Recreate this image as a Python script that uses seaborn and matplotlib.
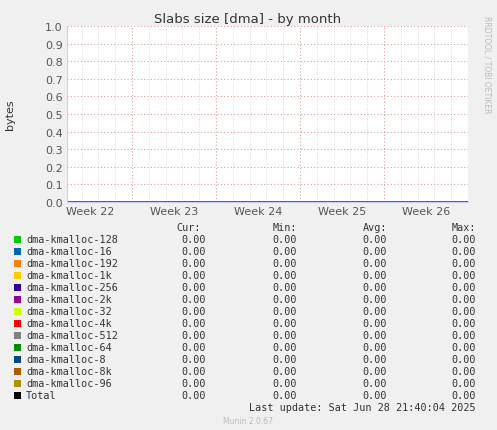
import matplotlib
matplotlib.use("Agg")
import matplotlib.pyplot as plt
import seaborn as sns
import numpy as np
import pandas as pd

series_names = ["dma-kmalloc-128", "dma-kmalloc-16", "dma-kmalloc-192", "dma-kmalloc-1k",
                "dma-kmalloc-256", "dma-kmalloc-2k", "dma-kmalloc-32", "dma-kmalloc-4k",
                "dma-kmalloc-512", "dma-kmalloc-64", "dma-kmalloc-8", "dma-kmalloc-8k",
                "dma-kmalloc-96", "Total"]
series_colors = ["#00CC00", "#0066B3", "#FF8000", "#FFCC00", "#330099", "#990099", "#CCFF00",
                 "#FF0000", "#808080", "#008F00", "#00487D", "#B35A00", "#B38F00", "#000000"]
cur_vals = [0.0] * 14
min_vals = [0.0] * 14
avg_vals = [0.0] * 14
max_vals = [0.0] * 14
week_labels = ["Week 22", "Week 23", "Week 24", "Week 25", "Week 26"]
week_pos = [0, 7, 14, 21, 28]
time_days = [-1.9, 31.5]
values = [0.0, 0.0]

sns.set_style("white")
plt.rcParams['font.family'] = ['DejaVu Sans']
fig = plt.figure(figsize=(4.97, 4.31), dpi=100, facecolor="#F0F0F0")
ax = fig.add_axes([67/497, 1-203/431, (468-67)/497, (203-27)/431])
ax.set_facecolor("white")

df = pd.DataFrame({"t": time_days, "v": values})
for name, col in zip(series_names, series_colors):
    sns.lineplot(data=df, x="t", y="v", ax=ax, color=col, linewidth=1, legend=False)

yt = np.round(np.arange(0, 1.01, 0.1), 1)
ax.set_yticks(yt)
ax.set_yticklabels([f"{v:.1f}" for v in yt])
ax.set_xticks(week_pos)
ax.set_xticklabels(week_labels)
for k in range(0, 26):
    p = -3.5 + 1.4*k
    major = (k % 5 == 0)
    ax.axvline(p, color="#E0A0A0" if major else "#CCCCCC", linestyle=(0, (1, 2)),
               linewidth=0.8 if major else 0.6, zorder=0)
for v in yt[1:]:
    ax.axhline(v, color="#E0A0A0", linestyle=(0, (1, 2)), linewidth=0.8, zorder=0)
ax.set_xlim(-1.92, 31.5)
ax.set_ylim(0, 1.0)
ax.tick_params(axis="both", labelsize=8, colors="#555555", length=0, pad=3)
ax.set_xlabel("")
ax.set_ylabel("")
for s in ["top", "right"]:
    ax.spines[s].set_visible(False)
ax.spines["left"].set_color("#CCCCFF")
ax.spines["bottom"].set_color("#CCCCFF")

fig.text(248/497, 1-19/431, "Slabs size [dma] - by month", ha="center", va="center", fontsize=9.5, color="#333333")
fig.text(10/497, 1-115/431, "bytes", rotation=90, ha="center", va="center", fontsize=8, color="#333333")
fig.text(487/497, 1-65/431, "RRDTOOL / TOBI OETIKER", rotation=270, ha="center", va="center", fontsize=5.5, color="#BBBBBB")

mono = "DejaVu Sans Mono"
fs = 7.3
hy = 228
for x, h in zip([201, 297, 387, 476], ["Cur:", "Min:", "Avg:", "Max:"]):
    fig.text(x/497, 1-hy/431, h, ha="right", va="center", fontsize=fs, family=mono, color="#333333")
for i, (n, c) in enumerate(zip(series_names, series_colors)):
    y = 240 + i*12
    fig.patches.append(plt.Rectangle(((14)/497, 1-(y+3.5)/431), 7/497, 7/431,
                                     transform=fig.transFigure, facecolor=c, edgecolor="none"))
    fig.text(26/497, 1-y/431, n, ha="left", va="center", fontsize=fs, family=mono, color="#333333")
    for x, vals in zip([206, 297, 387, 476], [cur_vals, min_vals, avg_vals, max_vals]):
        fig.text(x/497, 1-y/431, f"{vals[i]:.2f}", ha="right", va="center", fontsize=fs, family=mono, color="#333333")
fig.text(476/497, 1-408/431, "Last update: Sat Jun 28 21:40:04 2025", ha="right", va="center", fontsize=fs, family=mono, color="#333333")
fig.text(248/497, 1-422/431, "Munin 2.0.67", ha="center", va="center", fontsize=5.5, color="#BBBBBB")

fig.savefig("out.png", dpi=100, facecolor=fig.get_facecolor())
